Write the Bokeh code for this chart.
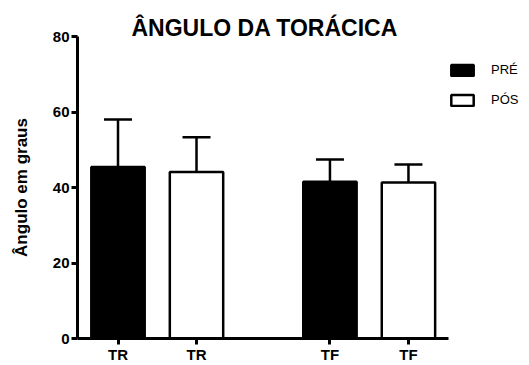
from bokeh.plotting import figure
from bokeh.models import (Range1d, FixedTicker, ColumnDataSource, Whisker, TeeHead,
                          Legend, LegendItem)
from bokeh.embed import file_html
from bokeh.resources import INLINE

# ---- data ----
groups = ["TR", "TF"]
series = ["PRÉ", "PÓS"]
pre_mean = [45.4, 41.5]
pre_sd = [12.6, 5.9]
pos_mean = [44.1, 41.3]
pos_sd = [9.2, 4.8]
y_ticks = [0, 20, 40, 60, 80]

# ---- layout params ----
pre_x = [10, 37]
pos_x = [20, 47]
bar_w = 6.8
x_lo, x_axis_end, x_hi = 4.84, 52.1, 62.42
FONT = "Liberation Sans"

p = figure(width=529, height=365, output_backend="svg", toolbar_location=None,
           x_range=Range1d(x_lo, x_hi), y_range=Range1d(0, 80),
           min_border_left=77, min_border_right=0, min_border_top=36, min_border_bottom=0,
           title="ÂNGULO DA TORÁCICA")
p.title.align = "left"
p.title.offset = 54
p.title.text_font = FONT
p.title.text_font_size = "23px"
p.title.text_font_style = "bold"
p.title.text_color = "black"
p.title.standoff = -9
p.outline_line_color = None
p.grid.visible = False
p.background_fill_color = "white"
p.border_fill_color = "white"

src_pre = ColumnDataSource(dict(x=pre_x, top=pre_mean,
                                up=[m + s for m, s in zip(pre_mean, pre_sd)]))
src_pos = ColumnDataSource(dict(x=pos_x, top=pos_mean,
                                up=[m + s for m, s in zip(pos_mean, pos_sd)]))

for src in (src_pre, src_pos):
    w = Whisker(source=src, base="x", lower="top", upper="up", dimension="height",
                line_color="black", line_width=2.5,
                upper_head=TeeHead(size=28, line_color="black", line_width=2.5),
                lower_head=None, level="underlay")
    p.add_layout(w)

r_pre = p.vbar(x="x", top="top", width=bar_w, bottom=0, source=src_pre,
               fill_color="black", line_color="black", line_width=2.5)
r_pos = p.vbar(x="x", top="top", width=bar_w, bottom=0, source=src_pos,
               fill_color="white", line_color="black", line_width=2.5)

# axes
p.xaxis.ticker = FixedTicker(ticks=pre_x + pos_x)
p.xaxis.major_label_overrides = {pre_x[0]: groups[0], pos_x[0]: groups[0],
                                 pre_x[1]: groups[1], pos_x[1]: groups[1]}
p.xaxis.bounds = (x_lo, x_axis_end)
p.yaxis.ticker = FixedTicker(ticks=y_ticks)
for ax in (p.xaxis[0], p.yaxis[0]):
    ax.axis_line_width = 3
    ax.axis_line_color = "black"
    ax.major_tick_line_width = 3
    ax.major_tick_line_color = "black"
    ax.major_tick_in = 0
    ax.major_tick_out = 6
    ax.minor_tick_line_color = None
    ax.major_label_text_font = FONT
    ax.major_label_text_font_style = "bold"
    ax.major_label_text_font_size = "15px"
    ax.major_label_text_color = "black"
p.xaxis.major_label_standoff = 1
p.yaxis.major_label_standoff = 2
p.yaxis.axis_label = "Ângulo em graus"
p.yaxis.axis_label_text_font = FONT
p.yaxis.axis_label_text_font_style = "bold"
p.yaxis.axis_label_text_font_size = "17px"
p.yaxis.axis_label_text_color = "black"
p.yaxis.axis_label_standoff = 19

legend = Legend(items=[LegendItem(label=series[0], renderers=[r_pre]),
                       LegendItem(label=series[1], renderers=[r_pos])],
                location=(371, 231), margin=0, padding=0, spacing=15,
                glyph_width=28, glyph_height=14, label_height=14, label_standoff=15,
                label_text_font=FONT, label_text_font_size="13px",
                label_text_color="black",
                border_line_color=None, background_fill_alpha=0)
p.add_layout(legend)

open("out.html", "w").write(file_html(p, INLINE))
